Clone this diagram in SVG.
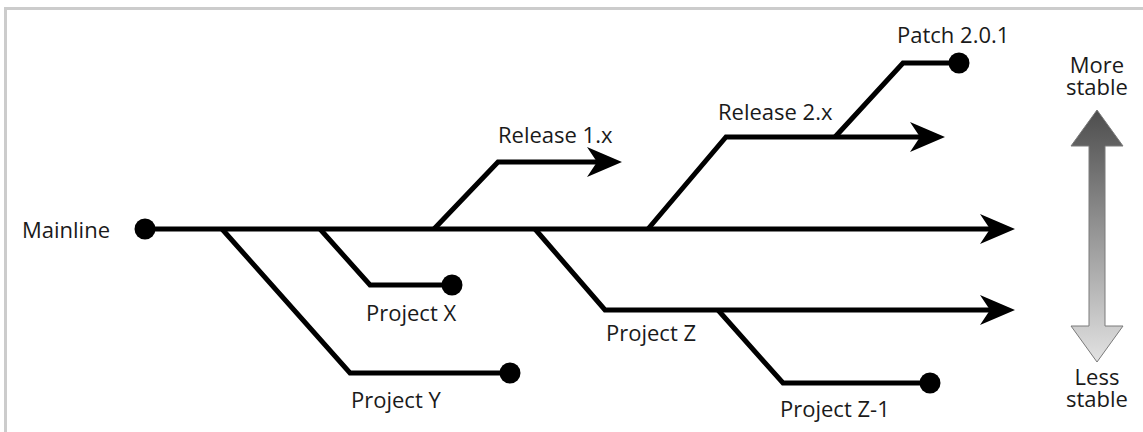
<svg xmlns="http://www.w3.org/2000/svg" width="1143" height="432" viewBox="0 0 1143 432">
  <style>
    .ln { fill: none; stroke: #000; stroke-width: 5; stroke-linejoin: miter; stroke-linecap: butt; }
    .dot { fill: #000; }
    .lbl { font-family: "Open Sans", "Liberation Sans", sans-serif; font-size: 22px; fill: #1a1a1a; }
    .mid { text-anchor: middle; }
  </style>
  <defs>
    <marker id="arr" markerUnits="userSpaceOnUse" markerWidth="40" markerHeight="34" viewBox="0 0 40 34" refX="10" refY="17" orient="auto">
      <path d="M35,17 L0,2 L10,17 L0,32 Z" fill="#000"/>
    </marker>
    <linearGradient id="stab" x1="0" y1="0" x2="0" y2="1">
      <stop offset="0" stop-color="#4d4d4d"/>
      <stop offset="1" stop-color="#e2e2e2"/>
    </linearGradient>
  </defs>
  <rect x="0" y="0" width="1143" height="432" fill="#fff"/>
  <path d="M5.5,432 V8.5 H1143" fill="none" stroke="#cccccc" stroke-width="3"/>

  <g id="connectors">
    <path class="ln" d="M145,229 H990" marker-end="url(#arr)"/>
    <path class="ln" d="M222,229 L350,373 H510"/>
    <path class="ln" d="M320,229 L370,285 H452"/>
    <path class="ln" d="M434,229 L498,162 H597" marker-end="url(#arr)"/>
    <path class="ln" d="M648,229 L726,137 H920" marker-end="url(#arr)"/>
    <path class="ln" d="M835,137 L903,63 H960"/>
    <path class="ln" d="M535,229 L605,310 H990" marker-end="url(#arr)"/>
    <path class="ln" d="M718,310 L783,383 H930"/>
  </g>

  <g id="mainline">
    <circle class="dot" cx="145" cy="229" r="10.5"/>
    <text class="lbl" x="22" y="238">Mainline</text>
  </g>
  <g id="project-y">
    <circle class="dot" cx="510" cy="373" r="10.5"/>
    <text class="lbl" x="351" y="408">Project Y</text>
  </g>
  <g id="project-x">
    <circle class="dot" cx="452" cy="285" r="10.5"/>
    <text class="lbl" x="366" y="321">Project X</text>
  </g>
  <g id="release-1x">
    <text class="lbl" x="498" y="143">Release 1.x</text>
  </g>
  <g id="release-2x">
    <text class="lbl" x="718" y="120">Release 2.x</text>
  </g>
  <g id="patch-201">
    <circle class="dot" cx="959" cy="63" r="10.5"/>
    <text class="lbl" x="897" y="43">Patch 2.0.1</text>
  </g>
  <g id="project-z">
    <text class="lbl" x="606" y="341">Project Z</text>
  </g>
  <g id="project-z1">
    <circle class="dot" cx="930" cy="383" r="10.5"/>
    <text class="lbl" x="780" y="417">Project Z-1</text>
  </g>
  <g id="stability">
    <path d="M1097,110 L1123,146 L1105,146 L1105,326 L1123,326 L1097,362 L1071,326 L1089,326 L1089,146 L1071,146 Z" fill="url(#stab)" stroke="#7a7a7a" stroke-width="1"/>
    <text class="lbl mid" x="1097" y="73">More<tspan x="1097" dy="22">stable</tspan></text>
    <text class="lbl mid" x="1097" y="385">Less<tspan x="1097" dy="22">stable</tspan></text>
  </g>
</svg>
